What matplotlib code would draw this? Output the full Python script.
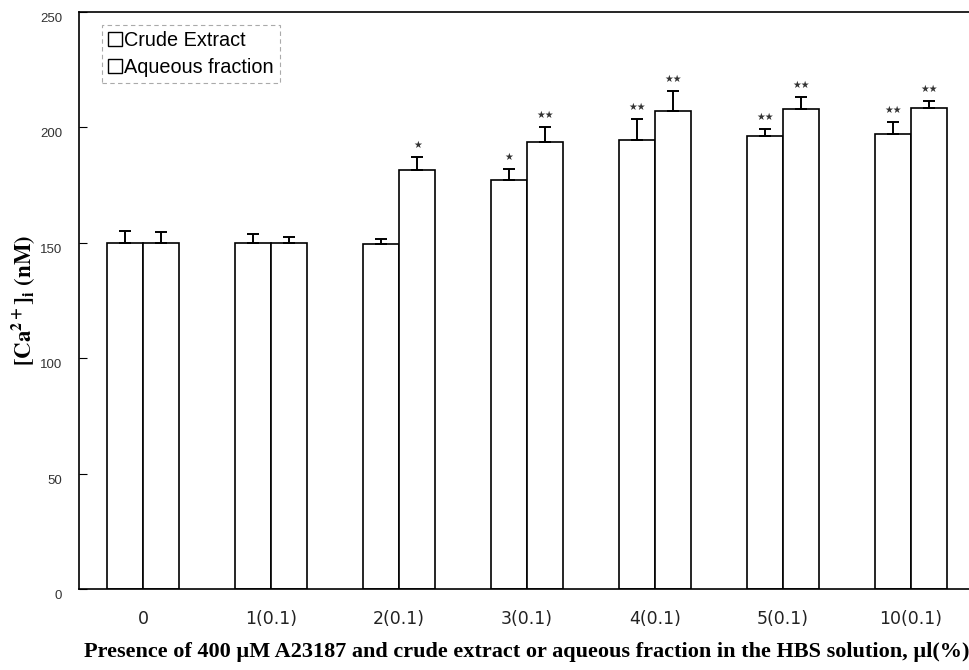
import matplotlib
matplotlib.use("Agg")
import matplotlib.pyplot as plt
from matplotlib.patches import Rectangle
from matplotlib.transforms import ScaledTranslation
import numpy as np

categories = ["0", "1(0.1)", "2(0.1)", "3(0.1)", "4(0.1)", "5(0.1)", "10(0.1)"]
crude = [150.0, 150.0, 149.5, 177.2, 194.5, 196.3, 197.1]
crude_err = [5.2, 3.9, 2.2, 4.8, 9.1, 3.0, 5.2]
aqueous = [150.0, 150.0, 181.5, 193.7, 207.1, 208.0, 208.4]
aqueous_err = [4.8, 2.6, 5.6, 6.5, 8.7, 5.2, 3.0]
crude_sig = ["", "", "", "★", "★★", "★★", "★★"]
aqueous_sig = ["", "", "★", "★★", "★★", "★★", "★★"]
yticks = [0, 50, 100, 150, 200, 250]
series_names = ["Crude Extract", "Aqueous fraction"]

plt.rcParams["mathtext.fontset"] = "stix"

fig = plt.figure(figsize=(9.69, 6.70), dpi=100)
ax = fig.add_axes([79 / 969, 81 / 670, (975 - 79) / 969, 577 / 670])

x = np.arange(len(categories))
w = 0.285
errkw = dict(ecolor="black", elinewidth=1.4, capsize=4, capthick=1.4)
ax.bar(x - w / 2, crude, w, color="white", edgecolor="black", linewidth=1.2,
       yerr=[np.zeros(len(crude)), crude_err], error_kw=errkw, zorder=2)
ax.bar(x + w / 2, aqueous, w, color="white", edgecolor="black", linewidth=1.2,
       yerr=[np.zeros(len(aqueous)), aqueous_err], error_kw=errkw, zorder=2)

for xs, vals, errs, sigs in ((x - w / 2, crude, crude_err, crude_sig),
                             (x + w / 2, aqueous, aqueous_err, aqueous_sig)):
    for xi, v, e, s in zip(xs, vals, errs, sigs):
        if s:
            ax.annotate(s, (xi, v + e), xytext=(0, 5), textcoords="offset points",
                        ha="center", va="bottom", fontsize=7, color="#333333",
                        family="DejaVu Sans")

ax.set_xlim(-0.5, len(categories) - 0.5)
ax.set_ylim(0, 250)
ax.set_yticks(yticks)
ax.set_yticklabels([str(t) for t in yticks], fontsize=9.5, color="#333333",
                   family="Liberation Sans")
ax.set_xticks(x)
ax.set_xticklabels(categories, fontsize=12.5, color="#222222", family="DejaVu Sans")
ax.tick_params(axis="y", direction="in", length=6, width=0.8, pad=12)
ax.tick_params(axis="x", length=0, pad=15)
off = ScaledTranslation(0, -4 / 72, fig.dpi_scale_trans)
for lab in ax.get_yticklabels():
    lab.set_transform(lab.get_transform() + off)
for sp in ax.spines.values():
    sp.set_linewidth(1.2)

ax.set_ylabel(r"$\mathbf{[Ca^{2+}]_{i}\ (nM)}$", fontsize=16.5, labelpad=2)
ax.set_xlabel("Presence of 400 \u00b5M A23187 and crude extract or aqueous fraction in the HBS solution, \u00b5l(%)",
              fontsize=16, fontweight="bold", family="Liberation Serif", labelpad=10)

handles = [Rectangle((0, 0), 1, 1, facecolor="white", edgecolor="black", linewidth=1.0)
           for _ in series_names]
leg = ax.legend(handles, series_names, loc="upper left", bbox_to_anchor=(0.026, 0.977),
                prop={"family": "Liberation Sans", "size": 14.3},
                handlelength=0.7, handleheight=0.7, handletextpad=0.1,
                labelspacing=0.4, borderpad=0.3, borderaxespad=0.0,
                fancybox=False, framealpha=1.0)
leg.get_frame().set_edgecolor("#aaaaaa")
leg.get_frame().set_linestyle((0, (4, 3)))
leg.get_frame().set_linewidth(0.8)

fig.savefig("out.png", dpi=100)
